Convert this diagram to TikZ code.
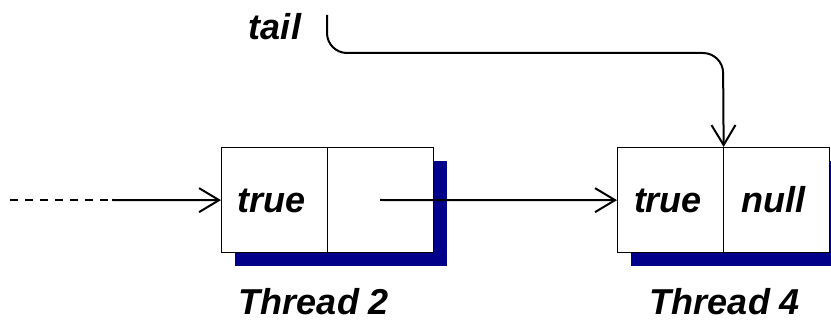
\documentclass[tikz,border=0pt]{standalone}
\usepackage{fontspec}
\setmainfont{Liberation Sans}
\usetikzlibrary{arrows.meta,shadows}
\definecolor{navyshadow}{RGB}{0,0,139}
\begin{document}
\begin{tikzpicture}[x=1pt,y=-1pt,
  lbl/.style={font=\fontsize{36}{40}\selectfont\bfseries\itshape, inner sep=0pt, anchor=base},
  cellbox/.style={draw, line width=1.3pt, fill=white, minimum width=212pt, minimum height=105pt,
    inner sep=0pt, anchor=north west,
    drop shadow={shadow xshift=13pt, shadow yshift=-13pt, fill=navyshadow, opacity=1}},
  ptr/.style={line width=2pt, -{Straight Barb[length=20pt,width=24pt,line width=2pt]}},
  dashline/.style={line width=2pt, dash pattern=on 8pt off 7pt}]
\useasboundingbox (0,0) rectangle (831,323);

% the two list nodes, each split into value | next
\node[cellbox] (n2) at (221,147) {};
\node[cellbox] (n4) at (617,147) {};
\draw[line width=1.3pt] (n2.north) -- (n2.south);
\draw[line width=1.3pt] (n4.north) -- (n4.south);

\node[lbl] (v2) at (272,213) {true};
\node[lbl] (v4) at (668,213) {true};
\node[lbl] (x4) at (773,213) {null};

\node[lbl] (t2) at (314,315) {Thread 2};
\node[lbl] (t4) at (725,315) {Thread 4};
\node[lbl] (tail) at (275,40) {tail};

% incoming pointer from earlier nodes
\coordinate (far) at (10,200);
\coordinate (near) at (138,200);
\coordinate (solidstart) at (112,200);
\draw[dashline] (far) -- (near);
\draw[ptr] (solidstart) -- (n2.west);

% next pointer of Thread 2
\coordinate (nx2) at (380,200);
\draw[ptr] (nx2) -- (n4.west);

% tail pointer
\coordinate (ts) at (327,15);
\draw[ptr, rounded corners=20pt] (ts) -- (327,53) -- (723,53) -- (n4.north);
\end{tikzpicture}
\end{document}
